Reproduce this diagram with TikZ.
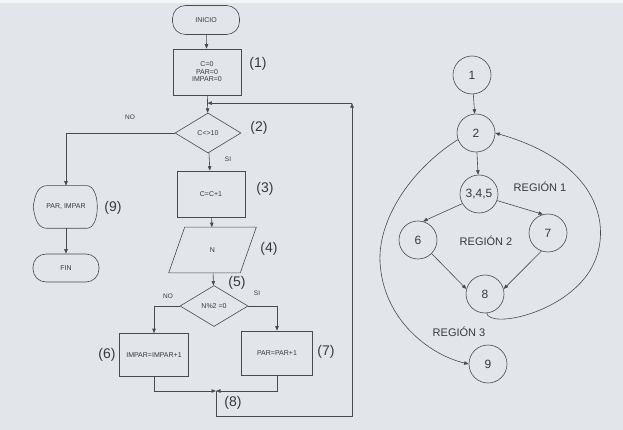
\documentclass[tikz,border=0pt]{standalone}
\usepackage{fontspec}
\setmainfont{Liberation Sans}
\usetikzlibrary{shapes.geometric,arrows.meta,calc}
\definecolor{bg}{RGB}{226,229,234}
\definecolor{linec}{RGB}{72,74,78}
\definecolor{txt}{RGB}{55,57,61}
\begin{document}
\begin{tikzpicture}[x=1pt,y=-1pt,line width=0.6pt,
  every node/.style={text=txt},
  fbox/.style={draw=linec,rectangle,inner sep=0pt,align=center,font=\fontsize{7}{7.5}\selectfont},
  term/.style={fbox,rounded corners=13pt},
  dia/.style={draw=linec,diamond,inner sep=0pt,font=\fontsize{7}{7.5}\selectfont},
  plain/.style={inner sep=0pt,font=\fontsize{7}{7.5}\selectfont},
  lab/.style={inner sep=0pt,font=\fontsize{14}{15}\selectfont},
  tiny/.style={inner sep=0pt,font=\fontsize{6.5}{7}\selectfont},
  cnode/.style={draw=linec,circle,minimum size=38pt,inner sep=0pt,font=\fontsize{12}{13}\selectfont},
  reg/.style={inner sep=0pt,font=\fontsize{11}{12}\selectfont},
  arr/.style={draw=linec,-{Triangle[length=4.5pt,width=3.5pt]}},
  ln/.style={draw=linec}]
\fill[bg] (0,0) rectangle (623,430);
\fill[white!60!bg] (0,0) rectangle (623,3);
\useasboundingbox (0,0) rectangle (623,430);
% ---------- flowchart ----------
\node[term,minimum width=67pt,minimum height=29pt] (ini) at (206,20) {INICIO};
\node[fbox,minimum width=68pt,minimum height=46pt] (b1) at (207,72) {C=0\\PAR=0\\IMPAR=0};
\node[lab] (l1) at (258,64) {(1)};
\node[dia,minimum width=66pt,minimum height=40pt] (d2) at (208,133) {C<>10};
\node[lab] (l2) at (259,128) {(2)};
\node[tiny] (no1) at (130,117) {NO};
\node[tiny] (si1) at (228,159) {SI};
\node[fbox,minimum width=68pt,minimum height=46pt] (b3) at (211,194) {C=C+1};
\node[lab] (l3) at (265,189) {(3)};
\node[plain,minimum width=87pt,minimum height=45pt] (n4) at (212.5,250) {N};
\draw[ln] ($(n4.north west)+(16,0)$) -- (n4.north east) -- ($(n4.south east)+(-16,0)$) -- (n4.south west) -- cycle;
\node[lab] (l4) at (269,249) {(4)};
\node[dia,minimum width=68pt,minimum height=41pt] (d5) at (214,306) {N\%2 =0};
\node[lab] (l5) at (237,283) {(5)};
\node[tiny] (no2) at (168,296) {NO};
\node[tiny] (si2) at (257,293) {SI};
\node[fbox,minimum width=69pt,minimum height=43pt] (b6) at (154,355) {IMPAR=IMPAR+1};
\node[lab] (l6) at (107,355) {(6)};
\node[fbox,minimum width=71pt,minimum height=44pt] (b7) at (277,353) {PAR=PAR+1};
\node[lab] (l7) at (326,352) {(7)};
\coordinate (j) at (216,391);
\node[lab] (l8) at (233,403) {(8)};
\node[plain,minimum width=65pt,minimum height=42pt] (n9) at (66,207) {PAR, IMPAR};
\draw[ln] (n9.west) .. controls ($(n9.west)+(2,-15)$) and ($(n9.north west)+(6,0)$) .. ($(n9.north west)+(14,0)$)
  -- ($(n9.north east)+(-12,0)$) .. controls ($(n9.north east)+(2,0)$) and ($(n9.south east)+(2,0)$) .. ($(n9.south east)+(-12,0)$)
  -- ($(n9.south west)+(14,0)$) .. controls ($(n9.south west)+(6,0)$) and ($(n9.west)+(2,15)$) .. (n9.west);
\node[lab] (l9) at (113,208) {(9)};
\node[term,minimum width=66pt,minimum height=28pt] (fin) at (66,268) {FIN};
% connectors
\draw[arr] (ini) -- (b1);
\draw[arr] (b1) -- (d2);
\draw[arr] (d2) -- (b3);
\draw[arr] (b3) -- (n4);
\draw[arr] (n4) -- (d5);
\draw[arr] (d2.west) -| (n9);
\draw[arr] (n9) -- (fin);
\draw[arr] (d5.west) -| (b6);
\draw[arr] (d5.east) -| (b7);
\draw[arr] (b6) |- (j);
\draw[arr] (b7) |- (j);
\coordinate (lt) at ($(b1.south)!0.45!(d2.north)$);
\coordinate (lb) at (216,416);
\coordinate (rb) at (352,416);
\coordinate (rt) at (rb |- lt);
\draw[arr] (j) -- (lb) -- (rb) -- (rt);
\draw[arr] (rt) -- (lt);
% ---------- flow graph ----------
\node[cnode] (c1) at (472,75) {1};
\node[cnode] (c2) at (476,133) {2};
\node[cnode] (c345) at (479,194) {3,4,5};
\node[cnode] (c6) at (418,240) {6};
\node[cnode] (c7) at (548,233) {7};
\node[cnode] (c8) at (485,294) {8};
\node[cnode] (c9) at (488,364) {9};
\node[reg] (r1) at (540,187) {REGIÓN 1};
\node[reg] (r2) at (486,241) {REGIÓN 2};
\node[reg] (r3) at (459,332) {REGIÓN 3};
\draw[arr] (c1) -- (c2);
\draw[arr] (c2) -- (c345);
\draw[arr] (c345.210) -- (c6.75);
\draw[arr] (c345.-20) -- (c7.105);
\draw[arr] (c6.-45) -- (c8.165);
\draw[arr] (c7.-110) -- (c8.15);
\draw[arr] (c8.-85) .. controls (490,328) and (558,315) .. (587,275) .. controls (614,238) and (608,165) .. (c2.east);
\draw[arr] (c2.200) .. controls (410,170) and (378,220) .. (380,262) .. controls (383,320) and (430,355) .. (c9.west);
\end{tikzpicture}
\end{document}
